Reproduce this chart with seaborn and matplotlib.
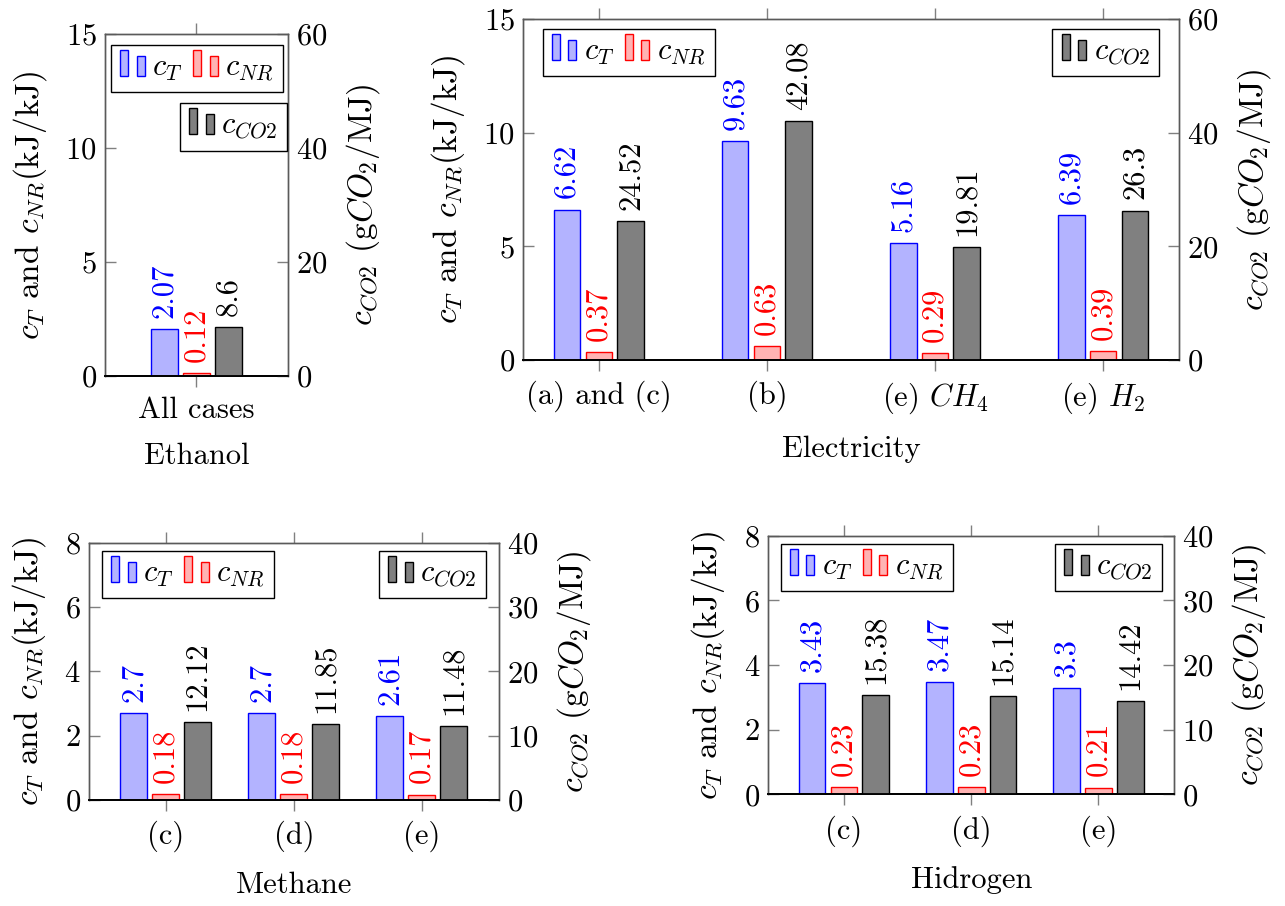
import numpy as np
import pandas as pd
import matplotlib
matplotlib.use("Agg")
import matplotlib.pyplot as plt
import seaborn as sns
from matplotlib.patches import Rectangle
from matplotlib.legend_handler import HandlerBase
from matplotlib.colors import to_hex

plt.rcParams.update({
    'font.family': 'serif',
    'font.serif': ['cmr10', 'DejaVu Serif'],
    'mathtext.fontset': 'cm',
    'axes.formatter.use_mathtext': True,
    'axes.unicode_minus': False,
    'font.size': 22,
})

# ---------------- data ----------------
series_names = ['$c_T$', '$c_{NR}$', '$c_{CO2}$']

ethanol_cats = ['All cases']
ethanol_ct = [2.07]
ethanol_cnr = [0.12]
ethanol_co2 = [8.6]

elec_cats = ['(a) and (c)', '(b)', '(e) $CH_4$', '(e) $H_2$']
elec_ct = [6.62, 9.63, 5.16, 6.39]
elec_cnr = [0.37, 0.63, 0.29, 0.39]
elec_co2 = [24.52, 42.08, 19.81, 26.3]

methane_cats = ['(c)', '(d)', '(e)']
methane_ct = [2.7, 2.7, 2.61]
methane_cnr = [0.18, 0.18, 0.17]
methane_co2 = [12.12, 11.85, 11.48]

hydrogen_cats = ['(c)', '(d)', '(e)']
hydrogen_ct = [3.43, 3.47, 3.3]
hydrogen_cnr = [0.23, 0.23, 0.21]
hydrogen_co2 = [15.38, 15.14, 14.42]

# ---------------- styles ----------------
FILL = {series_names[0]: '#B3B3FF', series_names[1]: '#FFB3B3', series_names[2]: '#808080'}
EDGE = {series_names[0]: '#0000FF', series_names[1]: '#FF0000', series_names[2]: '#000000'}
TXT = {series_names[0]: '#0000FF', series_names[1]: '#FF0000', series_names[2]: '#000000'}
FILL2NAME = {to_hex(v): k for k, v in FILL.items()}

FS = 22
YFS = 24
TICKC = '#808080'
SPINEC = '#5a5a5a'


class PairBars(HandlerBase):
    def create_artists(self, legend, orig_handle, xdescent, ydescent,
                       width, height, fontsize, trans):
        fc = orig_handle.get_facecolor()
        ec = orig_handle.get_edgecolor()
        bw = width * 0.33
        r1 = Rectangle((-xdescent, -ydescent), bw, fontsize * 0.85,
                       facecolor=fc, edgecolor=ec, lw=1.0, transform=trans)
        r2 = Rectangle((-xdescent + width - bw, -ydescent), bw, fontsize * 0.64,
                       facecolor=fc, edgecolor=ec, lw=1.0, transform=trans)
        return [r1, r2]


def make_legend(ax, names, loc, anchor):
    handles = [Rectangle((0, 0), 1, 1, facecolor=FILL[n], edgecolor=EDGE[n]) for n in names]
    hmap = {h: PairBars() for h in handles}
    leg = ax.legend(handles=handles, labels=names, ncol=len(names), loc=loc,
                    bbox_to_anchor=anchor, handler_map=hmap, frameon=True,
                    fancybox=False, edgecolor='black', framealpha=1,
                    borderaxespad=0, handlelength=0.8, handletextpad=0.25,
                    columnspacing=0.35, borderpad=0.3, fontsize=FS)
    leg.get_frame().set_linewidth(1.0)
    return leg


fig = plt.figure(figsize=(12.85, 9.06), dpi=100)


def panel(rect, cats, ct, cnr, co2, xlim, ylim_l, yt_l, ylim_r, yt_r, xlabel,
          leg1_anchor, leg2_anchor, lpad_l, lpad_r, lpad_x, group_width):
    n = len(cats)
    ax = fig.add_axes(rect)
    ax2 = ax.twinx()
    df_l = pd.DataFrame({'cat': cats * 2,
                         'series': [series_names[0]] * n + [series_names[1]] * n,
                         'value': list(ct) + list(cnr)})
    df_r = pd.DataFrame({'cat': cats, 'series': [series_names[2]] * n,
                         'value': list(co2)})
    common = dict(x='cat', y='value', hue='series', order=cats,
                  hue_order=series_names, palette=FILL, saturation=1,
                  width=group_width, gap=0.158, errorbar=None, legend=False,
                  linewidth=1.0, dodge=True)
    sns.barplot(data=df_l, ax=ax, **common)
    sns.barplot(data=df_r, ax=ax2, **common)

    for a in (ax, ax2):
        for p in a.patches:
            name = FILL2NAME.get(to_hex(p.get_facecolor()))
            if name is not None:
                p.set_edgecolor(EDGE[name])
                p.set_linewidth(1.0)
        for c in a.containers:
            if len(c.patches) == 0:
                continue
            name = FILL2NAME.get(to_hex(c.patches[0].get_facecolor()))
            if name is None:
                continue
            labels = [f"{v:g}" for v in c.datavalues]
            a.bar_label(c, labels=labels, rotation=90, padding=8,
                        color=TXT[name], fontsize=FS)

    ax.set_xlim(*xlim)
    ax.set_xticks(range(n))
    ax.set_xticklabels(cats)
    ax.set_ylim(*ylim_l)
    ax.set_yticks(yt_l)
    ax2.set_ylim(*ylim_r)
    ax2.set_yticks(yt_r)

    ax.set_xlabel(xlabel, fontsize=FS, labelpad=lpad_x)
    ax.set_ylabel('$c_T$ and $c_{NR}$(kJ/kJ)', fontsize=YFS, labelpad=lpad_l)
    ax2.set_ylabel('$c_{CO2}$ (g$CO_2$/MJ)', fontsize=YFS, labelpad=lpad_r,
                   rotation=90)

    ax.tick_params(axis='x', direction='out', length=8, width=1, color=TICKC,
                   top=True, bottom=True, labelsize=FS, pad=7)
    ax.tick_params(axis='y', direction='in', length=8, width=1, color=TICKC,
                   left=True, right=False, labelsize=FS, pad=6)
    ax2.tick_params(axis='y', direction='in', length=8, width=1, color=TICKC,
                    left=False, right=True, labelsize=FS, pad=6)
    for a in (ax, ax2):
        for s in ('left', 'right', 'top'):
            a.spines[s].set_color(SPINEC)
            a.spines[s].set_linewidth(1.0)
        a.spines['bottom'].set_color('black')
        a.spines['bottom'].set_linewidth(1.3)

    leg1 = make_legend(ax2, series_names[:2], 'upper left', leg1_anchor)
    ax2.add_artist(leg1)
    make_legend(ax2, series_names[2:], 'upper right', leg2_anchor)
    return ax, ax2


panel([0.0817, 0.585, 0.1424, 0.3775], ethanol_cats, ethanol_ct, ethanol_cnr,
      ethanol_co2, (-0.54, 0.54), (0, 15), [0, 5, 10, 15], (0, 60), [0, 20, 40, 60],
      'Ethanol', (0.033, 0.968), (0.995, 0.798), 12, 12, 13.5, 0.57)

panel([0.407, 0.6026, 0.5105, 0.3764], elec_cats, elec_ct, elec_cnr, elec_co2,
      (-0.452, 3.452), (0, 15), [0, 5, 10, 15], (0, 60), [0, 20, 40, 60],
      'Electricity', (0.03, 0.971), (0.97, 0.971), 12, 12, 14, 0.57)

panel([0.0693, 0.117, 0.3188, 0.2837], methane_cats, methane_ct, methane_cnr,
      methane_co2, (-0.6, 2.6), (0, 8), [0, 2, 4, 6, 8], (0, 40), [0, 10, 20, 30, 40],
      'Methane', (0.032, 0.969), (0.969, 0.969), 12, 12, 14, 0.75)

panel([0.598, 0.1233, 0.3156, 0.2854], hydrogen_cats, hydrogen_ct, hydrogen_cnr,
      hydrogen_co2, (-0.593, 2.593), (0, 8), [0, 2, 4, 6, 8], (0, 40), [0, 10, 20, 30, 40],
      'Hidrogen', (0.03, 0.968), (0.97, 0.968), 12, 12, 14, 0.75)

fig.savefig('out.png', dpi=100)
